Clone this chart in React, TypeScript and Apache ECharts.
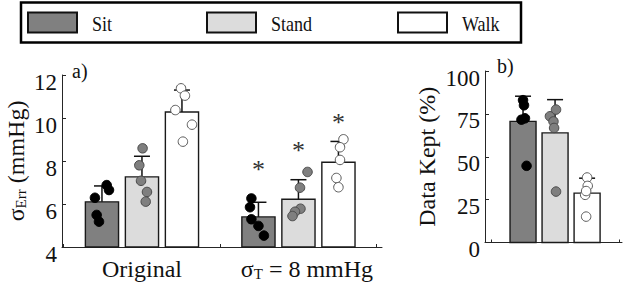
import React, { useEffect, useRef } from 'react';
import * as echarts from 'echarts';

// ---------- data ----------
const groups = ['Sit', 'Stand', 'Walk'];
const conditions = ['Original', 'σT = 8 mmHg'];
const conditionPos = [1, 2];
const errXTicks = [0.5, 1.5, 2.5];

// panel a: sigma_Err (mmHg), [condition][group]
const errMean = [
  [6.1, 7.26, 10.28],
  [5.4, 6.22, 7.94],
];
const errUpper = [
  [6.84, 8.22, 11.3],
  [6.08, 7.13, 8.91],
];
// asterisk heights for the σT condition
const errStars = [7.61, 8.48, 9.78];
// subject points [x jitter, value], per group
const errDotsOriginal = [
  [[-0.045, 6.29], [0.03, 6.88], [0.045, 6.65], [-0.034, 5.49], [-0.019, 5.18]],
  [[0.004, 8.59], [-0.017, 7.8], [-0.006, 7.08], [0.032, 6.56], [0.024, 6.11]],
  [[-0.006, 11.38], [0.019, 11.04], [-0.042, 10.37], [0.064, 9.69], [0.006, 8.9]],
];
const errDotsThreshold = [
  [[-0.045, 6.26], [-0.054, 5.85], [-0.045, 5.29], [0.0, 4.98], [0.035, 4.53]],
  [[0.058, 7.49], [0.01, 6.76], [0.013, 5.78], [-0.022, 5.64], [-0.038, 5.44]],
  [[0.032, 9.01], [0.01, 8.64], [0.01, 8.05], [-0.013, 7.21], [0.0, 6.78]],
];
const errTickValues = [4, 6, 8, 10, 12];

// panel b: data kept (%)
const keptPos = [1, 2, 3];
const keptXTicks = [0, 4];
const keptMean = [70.6, 63.9, 28.8];
const keptUpper = [85.3, 83.3, 37.5];
const keptDots = [
  [[0.0, 83], [0.03, 80], [-0.05, 71.6], [0.06, 72.4], [0.11, 44.7]],
  [[-0.16, 73.6], [0.03, 77.5], [-0.05, 70.6], [-0.03, 66.8], [0.03, 29.7]],
  [[0.0, 37.9], [0.02, 33], [-0.06, 27.8], [-0.03, 15.1], [-0.03, 30]],
];
const keptTickValues = [0, 25, 50, 75, 100];

// ---------- styles ----------
const FONT = 'Liberation Serif, Times New Roman, Times, DejaVu Serif, serif';
const barFills = ['#808080', '#dcdcdc', '#ffffff'];
const dotFills = ['#000000', '#7f7f7f', '#ffffff'];
const dotBorders = ['#000000', '#4a4a4a', '#5a5a5a'];
const AXIS = '#262626';
const groupOffsetA = 0.2556;
const barHalfA = 0.106;
const barHalfB = 0.406;

const subRich = {
  s: { fontFamily: FONT, fontSize: 24, lineHeight: 24, color: '#111' },
  sub: { fontFamily: FONT, fontSize: 15, lineHeight: 15, color: '#111', verticalAlign: 'bottom' },
};

export default function App() {
  const ref = useRef<HTMLDivElement>(null);

  useEffect(() => {
    if (!ref.current) return;
    const chart = echarts.init(ref.current, null, { renderer: 'svg' });

    const barRender = (halfW: number, base: number) => (params: any, api: any) => {
      const x = api.value(0);
      const v = api.value(1);
      const g = api.value(2);
      const a = api.coord([x - halfW, base]);
      const b = api.coord([x + halfW, v]);
      return {
        type: 'rect',
        shape: { x: a[0], y: b[1], width: b[0] - a[0], height: a[1] - b[1] },
        style: { fill: barFills[g], stroke: '#1a1a1a', lineWidth: 1.4 },
      };
    };
    const errRender = (params: any, api: any) => {
      const x = api.value(0);
      const p0 = api.coord([x, api.value(1)]);
      const p1 = api.coord([x, api.value(2)]);
      const st = { stroke: '#111', lineWidth: 1.5 };
      return {
        type: 'group',
        children: [
          { type: 'line', shape: { x1: p0[0], y1: p0[1], x2: p1[0], y2: p1[1] }, style: st },
          { type: 'line', shape: { x1: p1[0] - 8, y1: p1[1], x2: p1[0] + 8, y2: p1[1] }, style: st },
        ],
      };
    };
    const starRender = (params: any, api: any) => {
      const p = api.coord([api.value(0), api.value(1)]);
      return {
        type: 'text',
        x: p[0],
        y: p[1],
        style: {
          text: '*',
          fontFamily: FONT,
          fontSize: 26,
          fill: '#333',
          align: 'center',
          verticalAlign: 'middle',
        },
      };
    };

    // build data for panel a
    const aBars: number[][] = [];
    const aErr: number[][] = [];
    conditions.forEach((_, c) => {
      groups.forEach((_, g) => {
        const x = conditionPos[c] + (g - 1) * groupOffsetA;
        aBars.push([x, errMean[c][g], g]);
        aErr.push([x, errMean[c][g], errUpper[c][g]]);
      });
    });
    const aStars = groups.map((_, g) => [conditionPos[1] + (g - 1) * groupOffsetA, errStars[g]]);
    const aDotSeries = groups.map((name, g) => ({
      type: 'scatter',
      name,
      xAxisIndex: 0,
      yAxisIndex: 0,
      symbolSize: 9.5,
      z: 4,
      itemStyle: { color: dotFills[g], borderColor: dotBorders[g], borderWidth: 1, opacity: 1 },
      data: [
        ...errDotsOriginal[g].map((d) => [conditionPos[0] + (g - 1) * groupOffsetA + d[0], d[1]]),
        ...errDotsThreshold[g].map((d) => [conditionPos[1] + (g - 1) * groupOffsetA + d[0], d[1]]),
      ],
    }));

    // panel b
    const bBars = groups.map((_, g) => [keptPos[g], keptMean[g], g]);
    const bErr = groups.map((_, g) => [keptPos[g], keptMean[g], keptUpper[g]]);
    const bDotSeries = groups.map((name, g) => ({
      type: 'scatter',
      name,
      xAxisIndex: 1,
      yAxisIndex: 1,
      symbolSize: 9.5,
      z: 4,
      itemStyle: { color: dotFills[g], borderColor: dotBorders[g], borderWidth: 1, opacity: 1 },
      data: keptDots[g].map((d) => [keptPos[g] + d[0], d[1]]),
    }));

    const yLabel = {
      fontFamily: FONT,
      fontSize: 23,
      color: '#111',
      margin: 5,
      verticalAlign: 'top',
      lineHeight: 14,
    };

    const legendX = [28, 207, 398];
    const legendGraphics: any[] = [
      {
        type: 'rect',
        shape: { x: 21, y: 2.5, width: 500, height: 40 },
        style: { fill: 'none', stroke: '#000', lineWidth: 2.5 },
      },
    ];
    groups.forEach((name, g) => {
      legendGraphics.push({
        type: 'rect',
        shape: { x: legendX[g], y: 12.5, width: 49, height: 20 },
        style: { fill: barFills[g], stroke: '#111', lineWidth: 2 },
      });
      legendGraphics.push({
        type: 'text',
        x: legendX[g] + 64,
        y: 23,
        scaleX: 0.82,
        style: {
          text: name,
          fontFamily: FONT,
          fontSize: 22,
          fill: '#111',
          align: 'left',
          verticalAlign: 'middle',
        },
      });
    });
    legendGraphics.push({
      type: 'text',
      x: 72,
      y: 71,
      style: { text: 'a)', fontFamily: FONT, fontSize: 20, fill: '#111', verticalAlign: 'middle' },
    });
    legendGraphics.push({
      type: 'text',
      x: 497,
      y: 66,
      style: { text: 'b)', fontFamily: FONT, fontSize: 20, fill: '#111', verticalAlign: 'middle' },
    });

    chart.setOption({
      animation: false,
      backgroundColor: '#ffffff',
      textStyle: { fontFamily: FONT },
      grid: [
        { left: 62, top: 75, width: 320, height: 172, containLabel: false, outerBoundsMode: 'none' },
        { left: 485, top: 71, width: 137, height: 171.5, containLabel: false, outerBoundsMode: 'none' },
      ],
      xAxis: [
        {
          type: 'value',
          gridIndex: 0,
          min: 0.489,
          max: 2.534,
          splitLine: { show: false },
          axisLine: { show: true, onZero: false, lineStyle: { color: AXIS, width: 1 } },
          axisTick: { show: true, inside: true, length: 3, customValues: errXTicks, lineStyle: { color: AXIS } },
          axisLabel: {
            customValues: conditionPos,
            margin: 10,
            fontFamily: FONT,
            fontSize: 24,
            color: '#111',
            formatter: (v: number) => {
              const i = conditionPos.indexOf(v);
              if (i === 1) return '{gap|}{s|σ}{sub|T}{s| = 8 mmHg}';
              return '{s|' + conditions[i] + '}';
            },
            rich: { gap: { width: 17 }, ...subRich },
          },
        },
        {
          type: 'value',
          gridIndex: 1,
          min: -0.1875,
          max: 4.09,
          splitLine: { show: false },
          axisLine: { show: true, onZero: false, lineStyle: { color: AXIS, width: 1 } },
          axisTick: { show: true, inside: true, length: 3, customValues: keptXTicks, lineStyle: { color: AXIS } },
          axisLabel: { show: false },
        },
      ],
      yAxis: [
        {
          type: 'value',
          gridIndex: 0,
          min: errTickValues[0],
          max: errTickValues[errTickValues.length - 1],
          interval: 2,
          splitLine: { show: false },
          axisLine: { show: true, onZero: false, lineStyle: { color: AXIS, width: 1 } },
          axisTick: { show: true, inside: true, length: 4, lineStyle: { color: AXIS } },
          axisLabel: yLabel,
          name: '{s|σ}{sub|Err}{s| (mmHg)}',
          nameLocation: 'middle',
          nameRotate: 90,
          nameGap: 34,
          nameMoveOverlap: false,
          nameTextStyle: {
            fontFamily: FONT,
            fontSize: 24,
            color: '#111',
            rich: subRich,
          },
        },
        {
          type: 'value',
          gridIndex: 1,
          min: keptTickValues[0],
          max: keptTickValues[keptTickValues.length - 1],
          interval: 25,
          splitLine: { show: false },
          axisLine: { show: true, onZero: false, lineStyle: { color: AXIS, width: 1 } },
          axisTick: { show: true, inside: true, length: 4, lineStyle: { color: AXIS } },
          axisLabel: yLabel,
          name: 'Data Kept (%)',
          nameLocation: 'middle',
          nameRotate: 90,
          nameGap: 46,
          nameMoveOverlap: false,
          nameTextStyle: { fontFamily: FONT, fontSize: 24, color: '#111' },
        },
      ],
      graphic: legendGraphics,
      series: [
        {
          type: 'custom',
          xAxisIndex: 0,
          yAxisIndex: 0,
          z: 1,
          renderItem: barRender(barHalfA, errTickValues[0]),
          data: aBars,
        },
        {
          type: 'custom',
          xAxisIndex: 0,
          yAxisIndex: 0,
          z: 2,
          renderItem: errRender,
          data: aErr,
        },
        ...aDotSeries,
        {
          type: 'custom',
          xAxisIndex: 0,
          yAxisIndex: 0,
          z: 3,
          renderItem: starRender,
          data: aStars,
        },
        {
          type: 'custom',
          xAxisIndex: 1,
          yAxisIndex: 1,
          z: 1,
          renderItem: barRender(barHalfB, keptTickValues[0]),
          data: bBars,
        },
        {
          type: 'custom',
          xAxisIndex: 1,
          yAxisIndex: 1,
          z: 2,
          renderItem: errRender,
          data: bErr,
        },
        ...bDotSeries,
      ],
    });

    return () => chart.dispose();
  }, []);

  return (
    <div
      ref={ref}
      style={{ position: 'absolute', left: 0, top: 0, width: 628, height: 282, background: '#fff' }}
    />
  );
}
